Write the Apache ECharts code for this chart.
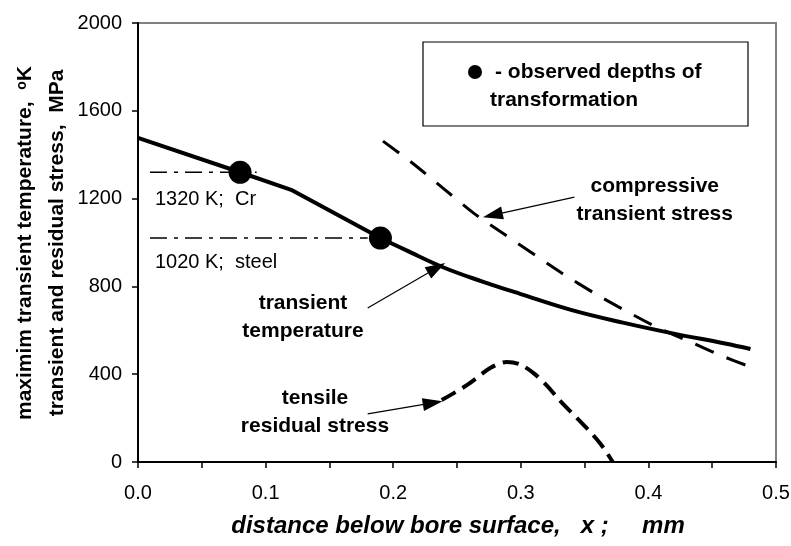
<!DOCTYPE html>
<html>
<head>
<meta charset="utf-8">
<script src="https://cdn.jsdelivr.net/npm/echarts@6/dist/echarts.min.js"></script>
<style>
    html, body { margin: 0; padding: 0; background: #fff; }
    #chart { width: 791px; height: 546px; }
</style>
</head>
<body>
<div id="chart"></div>
<script>
    // transient temperature (solid): straight part up to 0.19, then a smooth curve
    var tempX = [0, 0.08, 0.12, 0.19, 0.21, 0.24, 0.27, 0.30, 0.34, 0.38, 0.42, 0.46, 0.48];
    var tempY = [1477, 1320, 1240, 1020, 965, 885, 822, 765, 692, 635, 585, 540, 515];
    var tempBreak = 3; // index where the curved part starts

    // compressive transient stress (dashed)
    var compX = [0.192, 0.215, 0.239, 0.263, 0.288, 0.332, 0.360, 0.384, 0.408, 0.433, 0.456, 0.480];
    var compY = [1462, 1362, 1248, 1134, 1034, 861, 761, 683, 610, 547, 487, 433];

    // tensile residual stress (dashed)
    var tensX = [0.238, 0.258, 0.276, 0.289, 0.299, 0.310, 0.321, 0.329, 0.353, 0.360, 0.366, 0.372];
    var tensY = [282, 351, 428, 456, 446, 405, 345, 290, 146, 100, 55, 0];

    // observed depths of transformation
    var obsX = [0.08, 0.19];
    var obsY = [1320, 1020];

    // dash-dot reference levels
    var refLevel = [1320, 1020];
    var refStart = [0.0094, 0.0094];
    var refEnd = [0.093, 0.18];

    // notes on the plot
    var noteText = ['transient\ntemperature', 'tensile\nresidual stress', 'compressive\ntransient stress', '1320 K;  Cr', '1020 K;  steel'];
    var noteX = [0.1293, 0.1387, 0.405, 0.0133, 0.0133];
    var noteY = [661, 225, 1194, 1198, 907];
    var noteBold = [true, true, true, false, false];

    // arrows: from -> to
    var arrowFrom = [[0.180, 702], [0.180, 219], [0.342, 1207]];
    var arrowTo = [[0.234, 884], [0.231, 269], [0.278, 1125]];

    var xTicks = { min: 0, max: 0.5, interval: 0.1 };
    var yTicks = { min: 0, max: 2000, interval: 400 };

    var FONT = 'Liberation Sans, Arial, sans-serif';

    function zip(xs, ys) {
        var out = [];
        for (var i = 0; i < xs.length; i++) out.push([xs[i], ys[i]]);
        return out;
    }

    var tempPts = zip(tempX, tempY);

    var series = [
        {
            name: 'temperature', type: 'line', data: tempPts.slice(0, tempBreak + 1),
            showSymbol: false, smooth: false, z: 5,
            lineStyle: { color: '#000', width: 4 }
        },
        {
            name: 'temperature2', type: 'line', data: tempPts.slice(tempBreak),
            showSymbol: false, smooth: 0.4, z: 5,
            lineStyle: { color: '#000', width: 4 }
        },
        {
            name: 'compressive', type: 'line', data: zip(compX, compY),
            showSymbol: false, smooth: 0.2,
            lineStyle: { color: '#000', width: 3, type: [20, 14] }
        },
        {
            name: 'tensile', type: 'line', data: zip(tensX, tensY),
            showSymbol: false, smooth: 0.3,
            lineStyle: { color: '#000', width: 4, type: [16, 8] }
        },
        {
            name: 'observed', type: 'scatter', data: zip(obsX, obsY),
            symbolSize: 23, z: 10,
            itemStyle: { color: '#000', opacity: 1 }
        }
    ];

    refLevel.forEach(function (lv, i) {
        series.push({
            type: 'line', data: [[refStart[i], lv], [refEnd[i], lv]],
            showSymbol: false, z: 3,
            lineStyle: { color: '#000', width: 1.5, type: [17, 7, 4, 7] }
        });
    });

    series.push({
        type: 'scatter', symbolSize: 0, silent: true, z: 20,
        itemStyle: { opacity: 1 },
        data: noteText.map(function (t, i) {
            return {
                value: [noteX[i], noteY[i]],
                label: {
                    show: true, position: 'inside', formatter: t,
                    align: noteBold[i] ? 'center' : 'left',
                    verticalAlign: 'middle',
                    fontFamily: FONT, color: '#000', opacity: 1,
                    fontSize: noteBold[i] ? 21 : 20,
                    fontWeight: noteBold[i] ? 'bold' : 'normal',
                    lineHeight: 28
                }
            };
        })
    });

    series.push({
        type: 'line', data: [], silent: true,
        markLine: {
            silent: true, animation: false,
            symbol: ['none', 'triangle'], symbolSize: [13, 20],
            label: { show: false },
            lineStyle: { color: '#000', width: 1.2, type: 'solid', opacity: 1 },
            itemStyle: { color: '#000' },
            data: arrowFrom.map(function (f, i) {
                return [{ coord: f }, { coord: arrowTo[i] }];
            })
        }
    });

    var chart = echarts.init(document.getElementById('chart'), null, { renderer: 'canvas' });
    chart.setOption({
        animation: false,
        backgroundColor: '#fff',
        grid: {
            left: 138, right: 15, top: 23, bottom: 84,
            outerBoundsMode: 'none',
            show: true, borderColor: '#808080', borderWidth: 2, backgroundColor: 'transparent'
        },
        xAxis: {
            type: 'value', min: xTicks.min, max: xTicks.max, interval: xTicks.interval,
            axisLine: { show: true, lineStyle: { color: '#000', width: 2 } },
            axisTick: { show: true, length: 6, lineStyle: { color: '#000', width: 1.5 } },
            minorTick: { show: true, splitNumber: 2, length: 6, lineStyle: { color: '#000', width: 1.5 } },
            splitLine: { show: false },
            axisLabel: {
                margin: 21, fontSize: 20, fontFamily: FONT, color: '#000',
                formatter: function (v) { return v.toFixed(1); }
            }
        },
        yAxis: {
            type: 'value', min: yTicks.min, max: yTicks.max, interval: yTicks.interval,
            axisLine: { show: true, lineStyle: { color: '#000', width: 2 } },
            axisTick: { show: true, length: 6, lineStyle: { color: '#000', width: 1.5 } },
            splitLine: { show: false },
            axisLabel: {
                margin: 16, fontSize: 20, fontFamily: FONT, color: '#000',
                formatter: function (v) { return String(v); }
            }
        },
        graphic: [
            {
                type: 'rect', shape: { x: 423, y: 42, width: 325, height: 84 },
                style: { fill: '#fff', stroke: '#000', lineWidth: 1.2 }, z: 30
            },
            {
                type: 'circle', shape: { cx: 475, cy: 72, r: 7 },
                style: { fill: '#000' }, z: 31
            },
            {
                type: 'text', x: 495, y: 72, z: 31,
                style: { text: '- observed depths of', font: 'bold 21px ' + FONT, fill: '#000', verticalAlign: 'middle' }
            },
            {
                type: 'text', x: 490, y: 100, z: 31,
                style: { text: 'transformation', font: 'bold 21px ' + FONT, fill: '#000', verticalAlign: 'middle' }
            },
            {
                type: 'text', x: 25, y: 243, rotation: Math.PI / 2, z: 31,
                style: { text: 'maximim transient temperature,  \u1D52K', font: 'bold 21px ' + FONT, fill: '#000', align: 'center', verticalAlign: 'middle' }
            },
            {
                type: 'text', x: 57, y: 243, rotation: Math.PI / 2, z: 31,
                style: { text: 'transient and residual stress,  MPa', font: 'bold 21px ' + FONT, fill: '#000', align: 'center', verticalAlign: 'middle' }
            },
            {
                type: 'text', x: 458, y: 526, z: 31,
                style: { text: 'distance below bore surface,   x ;     mm', font: 'italic bold 24px ' + FONT, fill: '#000', align: 'center', verticalAlign: 'middle' }
            }
        ],
        series: series
    });
</script>
</body>
</html>
